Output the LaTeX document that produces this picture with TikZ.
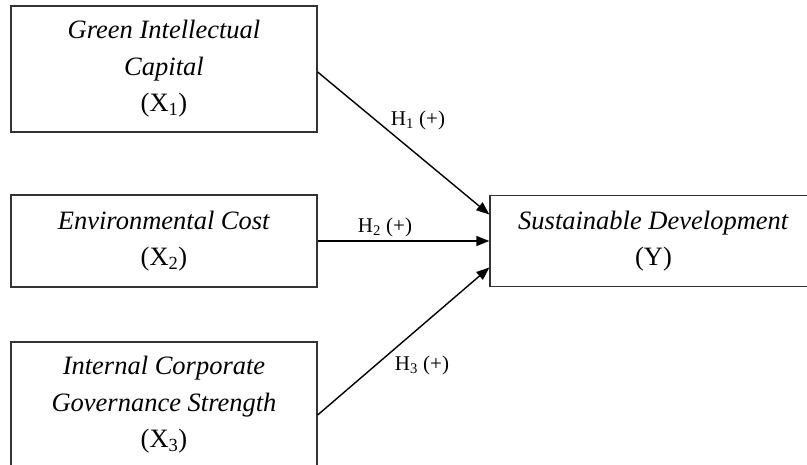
\documentclass[tikz,border=0pt]{standalone}
\usepackage{fontspec}
\setmainfont{Liberation Serif}
\usepackage{tikz}
\usetikzlibrary{arrows.meta}

\begin{document}
\begin{tikzpicture}[x=1pt, y=-1pt]
      \tikzstyle varbox=[draw=black!80, line width=1.3pt, align=center,
         font=\fontsize{26.5}{36.5}\selectfont, inner sep=0pt];
      \tikzstyle hyp=[draw=black, line width=1.4pt,
         -{Triangle[length=13pt, width=10pt]}];
      \tikzstyle hlabel=[font=\fontsize{21}{24}\selectfont, inner sep=0pt];

      \useasboundingbox (0, 0) rectangle (807, 465);
      \clip (0, 0) rectangle (807, 465); %boxes run off the page

      \node[varbox, minimum width=306pt, minimum height=126pt] (x1) at (164, 69)
         {\textit{Green Intellectual}\\ \textit{Capital}\\ (X\textsubscript{1})};
      \node[varbox, minimum width=306pt, minimum height=92pt] (x2) at (164, 241)
         {\textit{Environmental Cost}\\ (X\textsubscript{2})};
      \node[varbox, minimum width=306pt, minimum height=126pt] (x3) at (164, 405)
         {\textit{Internal Corporate}\\ \textit{Governance Strength}\\ (X\textsubscript{3})};
      \node[varbox, minimum width=327pt, minimum height=91pt] (y) at (653.5, 241)
         {\textit{Sustainable Development}\\ (Y)};

      %hypotheses
      \draw[hyp] ([yshift=-3pt]x1.east) -- ([yshift=26.5pt]y.west);
      \draw[hyp] (x2.east) -- (y.west);
      \draw[hyp] ([yshift=-10pt]x3.east) -- ([yshift=-26.5pt]y.west);

      \node[hlabel] (h1) at (418, 120) {H\textsubscript{1} (+)};
      \node[hlabel] (h2) at (385, 227) {H\textsubscript{2} (+)};
      \node[hlabel] (h3) at (422, 365) {H\textsubscript{3} (+)};
\end{tikzpicture}
\end{document}
